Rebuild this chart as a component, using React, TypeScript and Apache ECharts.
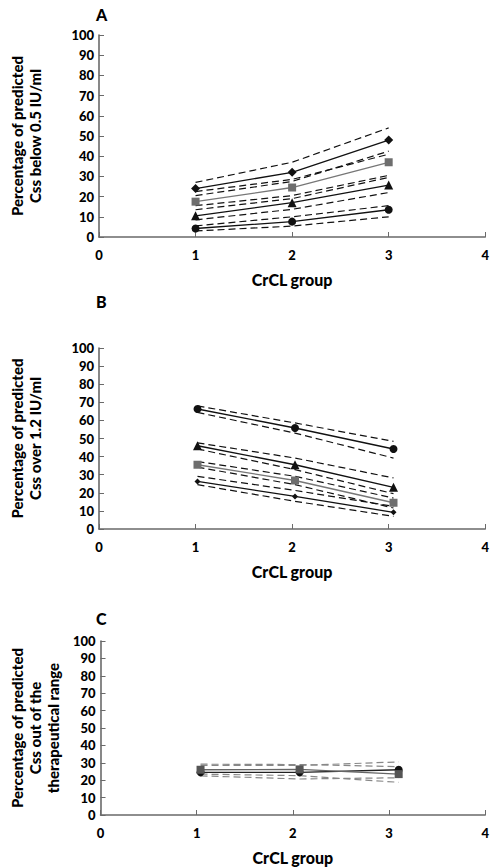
import React, { useEffect, useRef } from "react";
import * as echarts from "echarts";

// x positions of the CrCL groups (as plotted in each panel)
const xA = [1, 2, 3];
const xB = [1.02, 2.03, 3.05];
const xC = [1.04, 2.07, 3.1];
const xTicks = [0, 1, 2, 3, 4];

// Panel A: Css below 0.5 IU/ml
const aDiamond = [24, 32, 48];
const aDiamondUp = [27, 37, 54];
const aDiamondLo = [22.5, 28.5, 41];
const aSquare = [17.5, 24.5, 37];
const aSquareUp = [20.5, 27.5, 42.5];
const aSquareLo = [15.5, 20.5, 30.5];
const aTriangle = [10.5, 17, 25.7];
const aTriangleUp = [13.5, 19, 29.5];
const aTriangleLo = [8.5, 13.7, 22];
const aCircle = [4.2, 7.6, 13.5];
const aCircleUp = [5.5, 10, 15.5];
const aCircleLo = [3, 5.4, 10];

// Panel B: Css over 1.2 IU/ml
const bCircle = [66.3, 55.8, 44.2];
const bCircleUp = [68, 58.6, 48.4];
const bCircleLo = [64.4, 53, 39.2];
const bTriangle = [46, 35.5, 23];
const bTriangleUp = [47.6, 39.2, 28.2];
const bTriangleLo = [44.2, 32.8, 19.5];
const bSquare = [35.5, 26.8, 14.5];
const bSquareUp = [37.3, 29.1, 17.1];
const bSquareLo = [34.2, 24.5, 11.6];
const bDiamond = [26.3, 18, 9.2];
const bDiamondUp = [29.1, 21.3, 12.5];
const bDiamondLo = [24.5, 15.3, 7];

// Panel C: Css out of the therapeutical range
const cCircle = [24.5, 24.5, 26];
const cCircleUp = [28.5, 28.5, 30.5];
const cCircleLo = [22.5, 20.7, 21.4];
const cSquare = [26, 26.2, 23.5];
const cSquareUp = [29.2, 29, 27.8];
const cSquareLo = [23.5, 22.6, 18.8];

const yNames = [
  "Percentage of predicted\nCss below 0.5 IU/ml",
  "Percentage of predicted\nCss over 1.2 IU/ml",
  "Percentage of predicted\nCss out of the\ntherapeutical range",
];
const panelLetters = ["A", "B", "C"];
const xName = "CrCL group";

const FONT = "Lato, 'Open Sans', sans-serif";
const BLACK = "#111";
const GRAY = "#6e6e6e";
const AXIS = "#6a6a6a";

function pts(xs: number[], ys: number[]) {
  return xs.map((x, i) => [x, ys[i]]);
}

function solid(idx: number, xs: number[], ys: number[], symbol: string, size: number, color: string, lineColor: string) {
  return {
    type: "line",
    xAxisIndex: idx,
    yAxisIndex: idx,
    data: pts(xs, ys),
    symbol,
    symbolSize: size,
    showAllSymbol: true,
    itemStyle: { color },
    lineStyle: { color: lineColor, width: 1.3, type: "solid" },
    z: 5,
  };
}

function dashed(idx: number, xs: number[], ys: number[], color: string) {
  return {
    type: "line",
    xAxisIndex: idx,
    yAxisIndex: idx,
    data: pts(xs, ys),
    symbol: "none",
    lineStyle: { color, width: 1.2, type: [7, 4] },
    z: 3,
  };
}

export default function App() {
  const ref = useRef<HTMLDivElement>(null);
  useEffect(() => {
    if (!ref.current) return;
    const chart = echarts.init(ref.current, undefined, { renderer: "svg" });
    const grids = [
      { left: 91, top: 35, width: 396, height: 202 },
      { left: 91, top: 348, width: 396, height: 181 },
      { left: 91, top: 641, width: 396, height: 174 },
    ];
    const nameGaps = [55, 55, 38];
    const xAxes = grids.map((_, i) => ({
      type: "value",
      gridIndex: i,
      min: 0,
      max: 4,
      interval: 1,
      name: xName,
      nameLocation: "middle",
      nameGap: 34,
      nameTextStyle: { fontFamily: FONT, fontWeight: 900, fontSize: 16, color: "#000" },
      axisLine: { show: true, lineStyle: { color: AXIS, width: 1.6 } },
      axisTick: { show: true, inside: true, length: 5, lineStyle: { color: AXIS, width: 1 } },
      axisLabel: {
        fontFamily: FONT,
        fontWeight: 900,
        fontSize: 13,
        color: "#000",
        margin: 11,
        formatter: (v: number) => (xTicks.includes(v) ? String(v) : ""),
      },
      splitLine: { show: false },
    }));
    const yAxes = grids.map((_, i) => ({
      type: "value",
      gridIndex: i,
      min: 0,
      max: 100,
      interval: 10,
      name: yNames[i],
      nameLocation: "middle",
      nameRotate: 90,
      nameGap: nameGaps[i],
      nameTextStyle: {
        fontFamily: FONT,
        fontWeight: 900,
        fontSize: 15,
        lineHeight: 18,
        color: "#000",
      },
      axisLine: { show: true, lineStyle: { color: AXIS, width: 1.6 } },
      axisTick: { show: true, inside: true, length: 5, lineStyle: { color: AXIS, width: 1 } },
      axisLabel: { fontFamily: FONT, fontWeight: 900, fontSize: 13, color: "#000", margin: 5 },
      splitLine: { show: false },
    }));
    const titleTops = [1, 288, 605];
    const series: any[] = [
      // Panel A
      dashed(0, xA, aDiamondUp, BLACK),
      dashed(0, xA, aDiamondLo, BLACK),
      dashed(0, xA, aSquareUp, BLACK),
      dashed(0, xA, aSquareLo, BLACK),
      dashed(0, xA, aTriangleUp, BLACK),
      dashed(0, xA, aTriangleLo, BLACK),
      dashed(0, xA, aCircleUp, BLACK),
      dashed(0, xA, aCircleLo, BLACK),
      solid(0, xA, aDiamond, "diamond", 9, BLACK, BLACK),
      solid(0, xA, aSquare, "rect", 8, GRAY, "#777"),
      solid(0, xA, aTriangle, "triangle", 9, BLACK, BLACK),
      solid(0, xA, aCircle, "circle", 8, BLACK, BLACK),
      // Panel B
      dashed(1, xB, bCircleUp, BLACK),
      dashed(1, xB, bCircleLo, BLACK),
      dashed(1, xB, bTriangleUp, BLACK),
      dashed(1, xB, bTriangleLo, BLACK),
      dashed(1, xB, bSquareUp, BLACK),
      dashed(1, xB, bSquareLo, BLACK),
      dashed(1, xB, bDiamondUp, BLACK),
      dashed(1, xB, bDiamondLo, BLACK),
      solid(1, xB, bCircle, "circle", 8, BLACK, BLACK),
      solid(1, xB, bTriangle, "triangle", 9, BLACK, BLACK),
      solid(1, xB, bSquare, "rect", 8, GRAY, "#777"),
      solid(1, xB, bDiamond, "diamond", 6, BLACK, BLACK),
      // Panel C
      dashed(2, xC, cCircleUp, "#888"),
      dashed(2, xC, cCircleLo, "#888"),
      dashed(2, xC, cSquareUp, "#888"),
      dashed(2, xC, cSquareLo, "#888"),
      solid(2, xC, cCircle, "circle", 8, BLACK, "#222"),
      solid(2, xC, cSquare, "rect", 8, "#555", "#666"),
    ];
    chart.setOption({
      animation: false,
      backgroundColor: "#fff",
      title: panelLetters.map((t, i) => ({
        text: t,
        left: 91,
        top: titleTops[i],
        textStyle: { fontFamily: FONT, fontWeight: 900, fontSize: 16, color: "#000" },
      })),
      grid: grids,
      xAxis: xAxes,
      yAxis: yAxes,
      series,
    });
    return () => chart.dispose();
  }, []);
  return (
    <div
      ref={ref}
      style={{ position: "fixed", left: 0, top: 0, width: 492, height: 868, background: "#fff" }}
    />
  );
}
